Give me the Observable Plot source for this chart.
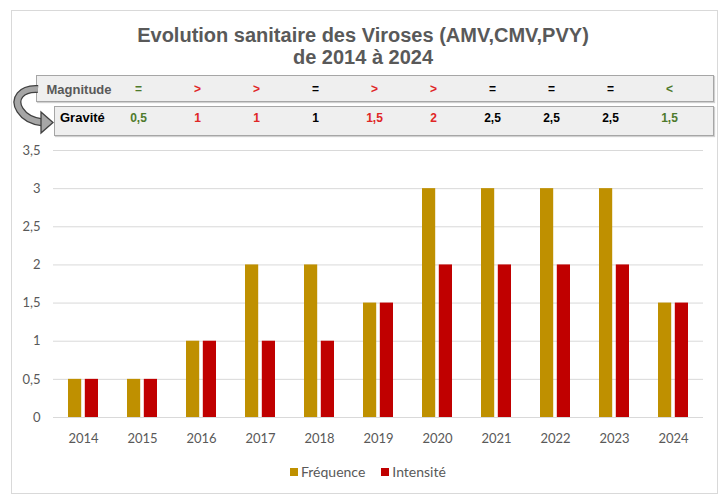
<!DOCTYPE html>
<html>
<head>
<meta charset="utf-8">
<script src="https://cdn.jsdelivr.net/npm/d3@7"></script>
<script src="https://cdn.jsdelivr.net/npm/@observablehq/plot@0.6"></script>
<style>
  body { margin: 0; background: #fff; }
  #wrap { position: relative; width: 726px; height: 497px; overflow: hidden; font-family: Lato, sans-serif; }
  #border { position: absolute; left: 11px; top: 10px; width: 707px; height: 484px; border: 1px solid #d9d9d9; box-sizing: border-box; }
  #title { position: absolute; left: 0; top: 23.5px; width: 726px; text-align: center;
           font: bold 20px/22.5px "Liberation Sans", Arial, sans-serif; color: #595959; }
  .box { position: absolute; background: #efefef; border: 1px solid #a6a6a6; box-sizing: border-box;
         box-shadow: 1px 1px 1px rgba(0,0,0,0.18); }
  #mag { left: 36px; top: 75px; width: 678px; height: 27px; }
  #grav { left: 54px; top: 106px; width: 660px; height: 30px; }
  .lbl { position: absolute; font: bold 13px/13px "Liberation Sans", Arial, sans-serif; white-space: nowrap; }
  #chart { position: absolute; left: 0; top: 68px; }
  #arrow { position: absolute; left: 0; top: 0; }
  #legend { position: absolute; left: 290px; top: 464px; }
  #legend > * { font-family: Lato, sans-serif !important; font-size: 14px !important; line-height: 16px !important;
                color: #595959 !important; margin: 0 !important; min-height: 0 !important;
                display: flex !important; align-items: center !important; }
  #legend span { margin-right: 16px !important; display: inline-flex !important; align-items: center !important; }
  #legend span > svg { margin-right: 3px !important; }
</style>
</head>
<body>
<div id="wrap">
  <div id="border"></div>
  <div id="title">Evolution sanitaire des Viroses (AMV,CMV,PVY)<br>de 2014 à 2024</div>
  <div class="box" id="mag"></div>
  <div class="box" id="grav"></div>
  <div class="lbl" style="left:46.5px; top:82.5px; color:#595959;">Magnitude</div>
  <div class="lbl" style="left:60px; top:110.5px; color:#000;">Gravité</div>
  <svg id="arrow" width="70" height="140">
    <path d="M38 89 C21 88, 13 99, 20 110 C25 118, 34 121.5, 43 122.5" fill="none" stroke="#404040" stroke-width="8" stroke-linecap="butt"/>
    <path d="M38 89 C21 88, 13 99, 20 110 C25 118, 34 121.5, 43 122.5" fill="none" stroke="#a6a6a6" stroke-width="5.5" stroke-linecap="butt"/>
    <polygon points="41,112 53,122.5 41,133" fill="#a6a6a6" stroke="#404040" stroke-width="1.3" stroke-linejoin="miter"/>
  </svg>
  <div id="chart"></div>
  <div id="legend"></div>
</div>
<script>
// ---- data ----
const years = ["2014","2015","2016","2017","2018","2019","2020","2021","2022","2023","2024"];
const frequence = [0.5, 0.5, 1, 2, 2, 1.5, 3, 3, 3, 3, 1.5];
const intensite = [0.5, 0.5, 1, 1, 1, 1.5, 2, 2, 2, 2, 1.5];
const seriesNames = ["Fréquence", "Intensité"];
const yTicks = [0, 0.5, 1, 1.5, 2, 2.5, 3, 3.5];

const headerYears = ["2015","2016","2017","2018","2019","2020","2021","2022","2023","2024"];
const magnitude = ["=", ">", ">", "=", ">", ">", "=", "=", "=", "<"];
const gravite = ["0,5", "1", "1", "1", "1,5", "2", "2,5", "2,5", "2,5", "1,5"];
const tendance = ["favorable", "hausse", "hausse", "stable", "hausse", "hausse", "stable", "stable", "stable", "favorable"];

// ---- styles ----
const seriesColors = ["#BF9000", "#C00000"];
const tendanceColors = {favorable: "#4E7A2C", hausse: "#E02626", stable: "#000000"};

const rows = years.flatMap((y, i) => [
  {year: y, serie: seriesNames[0], value: frequence[i]},
  {year: y, serie: seriesNames[1], value: intensite[i]}
]);
const header = headerYears.map((y, i) => ({year: y, magnitude: magnitude[i], gravite: gravite[i], tendance: tendance[i]}));

const marginTop = 82;
const bandGap = 16.8; // inset so each bar is ~13px wide inside the ~30px band
const fmt = d => String(d).replace(".", ",");

const headerMarks = Object.keys(tendanceColors).flatMap(t => {
  const data = header.filter(d => d.tendance === t);
  const common = {x: "year", frameAnchor: "top", lineAnchor: "middle", dx: -4, fill: tendanceColors[t],
                  fontWeight: "bold", fontFamily: "Liberation Sans, Arial, sans-serif"};
  return [
    Plot.text(data, {...common, text: "magnitude", dy: 20.5 - marginTop, fontSize: 12}),
    Plot.text(data, {...common, text: "gravite", dy: 49.5 - marginTop, fontSize: 12})
  ];
});

const chart = Plot.plot({
  width: 726,
  height: 424,
  marginTop,
  marginBottom: 75,
  marginLeft: 53,
  marginRight: 23,
  style: {background: "transparent", fontFamily: "Lato, sans-serif", fontSize: "13px", color: "#595959", overflow: "visible"},
  x: {type: "band", domain: years, paddingInner: 0.49, paddingOuter: 0.245, label: null, tickSize: 0, tickPadding: 16},
  y: {domain: [0, 3.5], ticks: yTicks, tickFormat: fmt, label: null, tickSize: 0, tickPadding: 13},
  color: {domain: seriesNames, range: seriesColors},
  marks: [
    Plot.ruleY(yTicks, {stroke: "#d9d9d9", strokeWidth: 1}),
    Plot.barY(rows.filter(d => d.serie === seriesNames[0]), {x: "year", y: "value", fill: "serie", insetLeft: 0, insetRight: bandGap}),
    Plot.barY(rows.filter(d => d.serie === seriesNames[1]), {x: "year", y: "value", fill: "serie", insetLeft: bandGap, insetRight: 0}),
    ...headerMarks
  ]
});
document.getElementById("chart").appendChild(chart);

const legend = Plot.legend({
  color: {domain: seriesNames, range: seriesColors},
  legend: "swatches",
  swatchSize: 8
});
document.getElementById("legend").appendChild(legend);
</script>
</body>
</html>
